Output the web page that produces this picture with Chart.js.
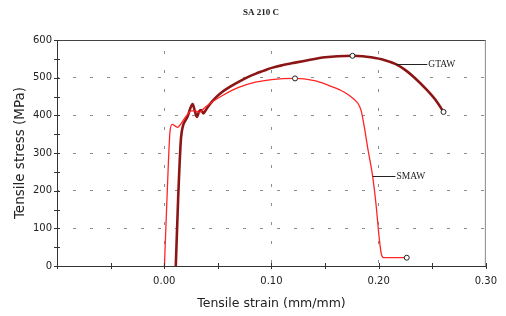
<!DOCTYPE html>
<html>
<head>
<meta charset="utf-8">
<script src="https://cdn.jsdelivr.net/npm/chart.js@4.4.0/dist/chart.umd.min.js"></script>
<style>
  html,body{margin:0;padding:0;background:#fff}
  canvas{display:block}
</style>
</head>
<body>
<canvas id="ch" width="506" height="316"></canvas>
<script>
/* SA 210 C tensile curves, GTAW vs SMAW */
const chartTitle = 'SA 210 C';

const gtawStrain = [0.0108, 0.013, 0.0155, 0.0175, 0.0195, 0.022, 0.0245, 0.0265, 0.0285, 0.0305, 0.0325, 0.0345, 0.0365, 0.039, 0.043, 0.048, 0.054, 0.062, 0.0694, 0.077, 0.085, 0.0925, 0.1003, 0.11, 0.122, 0.135, 0.150, 0.162, 0.1756, 0.185, 0.193, 0.205, 0.216, 0.225, 0.233, 0.2454, 0.2546, 0.2605];
const gtawStress = [0, 180, 333, 372, 385, 398, 420, 430, 412, 396, 410, 414, 405, 415, 431, 447, 462, 477, 489, 500, 510, 518, 526, 533, 540, 547, 554, 557, 558, 557, 554, 547, 536, 520, 501, 466, 435, 409];

const smawStrain = [0.0002, 0.003, 0.0055, 0.0075, 0.010, 0.0125, 0.015, 0.018, 0.021, 0.025, 0.029, 0.033, 0.038, 0.046, 0.054, 0.0694, 0.085, 0.100, 0.122, 0.14, 0.153, 0.165, 0.171, 0.1765, 0.1806, 0.1836, 0.1867, 0.19, 0.1944, 0.1975, 0.2006, 0.2025, 0.2045, 0.2262];
const smawStress = [0, 210, 360, 376, 372, 368, 375, 388, 400, 412, 412, 408, 421, 438, 452, 474, 488, 495, 498, 492, 480, 466, 456, 444, 432, 413, 368, 310, 238, 165, 72, 32, 22, 22];

// marker circles (index of the point in each series)
const gtawMarks = [28, 37];
const smawMarks = [18, 33];

// leader labels
const labelNames = ['GTAW', 'SMAW'];
const labelAtStrain = [0.216, 0.1944];
const labelAtStress = [536, 238];
const labelTextStrain = [0.2454, 0.2157];

const xTicksShown = [0, 0.1, 0.2, 0.3];
const xGridAt = [0, 0.1, 0.2];
const yGridAt = [100, 200, 300, 400, 500];

const pts = (xs, ys) => xs.map((x, i) => ({x: x, y: ys[i]}));
const near = (v, arr) => arr.some(a => Math.abs(a - v) < 1e-6);

const GTAW_COL = '#8c1616';
const SMAW_COL = '#ff2424';
const GRID_COL = '#8c8c8c';

const framePlugin = {
  id: 'frame',
  afterDatasetsDraw(chart) {
    const {ctx, chartArea: a} = chart;
    ctx.save();
    ctx.lineWidth = 1;
    ctx.strokeStyle = '#444';
    ctx.beginPath(); ctx.moveTo(a.left, a.top + 0.5); ctx.lineTo(a.right, a.top + 0.5); ctx.stroke();
    ctx.strokeStyle = '#888';
    ctx.beginPath(); ctx.moveTo(a.right - 0.5, a.top); ctx.lineTo(a.right - 0.5, a.bottom); ctx.stroke();

    // tick marks crossing the axes
    ctx.strokeStyle = '#333';
    const xs = chart.scales.x, ys = chart.scales.y;
    xs.ticks.forEach(t => {
      const px = Math.round(xs.getPixelForValue(t.value)) + 0.5;
      ctx.beginPath(); ctx.moveTo(px, a.bottom - 3); ctx.lineTo(px, a.bottom + 3); ctx.stroke();
    });
    ys.ticks.forEach(t => {
      const py = Math.round(ys.getPixelForValue(t.value)) + 0.5;
      ctx.beginPath(); ctx.moveTo(a.left - 3, py); ctx.lineTo(a.left + 3, py); ctx.stroke();
    });

    // leader lines + labels
    ctx.strokeStyle = '#222';
    ctx.fillStyle = '#222';
    ctx.font = '9.5px "Liberation Serif"';
    ctx.textBaseline = 'middle';
    labelNames.forEach((n, i) => {
      const y = Math.round(ys.getPixelForValue(labelAtStress[i])) + 0.5;
      const x1 = xs.getPixelForValue(labelAtStrain[i]);
      const x2 = xs.getPixelForValue(labelTextStrain[i]);
      ctx.beginPath(); ctx.moveTo(x1, y); ctx.lineTo(x2, y); ctx.stroke();
      ctx.fillText(n, x2 + 1, y);
    });

    // title
    ctx.font = 'bold 9px "Liberation Serif"';
    ctx.textAlign = 'center';
    ctx.fillText(chartTitle, 261, 13);
    ctx.restore();
  }
};

const markRadius = marks => c => marks.includes(c.dataIndex) ? 2.5 : 0;

new Chart(document.getElementById('ch'), {
  type: 'line',
  data: {
    datasets: [
      {label: 'SMAW', data: pts(smawStrain, smawStress), borderColor: SMAW_COL, borderWidth: 1.3,
       cubicInterpolationMode: 'monotone', pointRadius: markRadius(smawMarks),
       pointBackgroundColor: '#fff', pointBorderColor: '#222', pointBorderWidth: 1},
      {label: 'GTAW', data: pts(gtawStrain, gtawStress), borderColor: GTAW_COL, borderWidth: 2.6,
       cubicInterpolationMode: 'monotone', pointRadius: markRadius(gtawMarks),
       pointBackgroundColor: '#fff', pointBorderColor: '#222', pointBorderWidth: 1}
    ]
  },
  options: {
    responsive: false,
    animation: false,
    events: [],
    layout: {padding: {left: 0, right: 17, top: 40, bottom: 0}},
    plugins: {legend: {display: false}, tooltip: {enabled: false}},
    scales: {
      x: {
        type: 'linear', min: -0.1, max: 0.3,
        afterFit: s => { s.height = 50; },
        ticks: {stepSize: 0.05, autoSkip: false, maxRotation: 0, padding: 9, color: '#222',
                font: {family: 'DejaVu Sans', size: 10},
                callback: v => near(v, xTicksShown) ? v.toFixed(2) : ''},
        grid: {drawTicks: false, lineWidth: 1,
               color: c => (c.tick && near(c.tick.value, xGridAt)) ? GRID_COL : 'rgba(0,0,0,0)'},
        border: {color: '#333', width: 1, dash: [3, 16], dashOffset: 8},
        title: {display: true, text: 'Tensile strain (mm/mm)', color: '#222',
                font: {family: 'DejaVu Sans', size: 12.5}, padding: {top: 0, bottom: 5}}
      },
      y: {
        min: 0, max: 600,
        afterFit: s => { s.width = 57; },
        ticks: {stepSize: 50, autoSkip: false, padding: 5, color: '#222',
                font: {family: 'DejaVu Sans', size: 10},
                callback: v => v % 100 === 0 ? v : ''},
        grid: {drawTicks: false, lineWidth: 1,
               color: c => (c.tick && near(c.tick.value, yGridAt)) ? GRID_COL : 'rgba(0,0,0,0)'},
        border: {color: '#333', width: 1, dash: [3, 14], dashOffset: 2},
        title: {display: true, text: 'Tensile stress (MPa)', color: '#222',
                font: {family: 'DejaVu Sans', size: 13.5}, padding: {top: 12, bottom: 0}}
      }
    }
  },
  plugins: [framePlugin]
});
</script>
</body>
</html>
